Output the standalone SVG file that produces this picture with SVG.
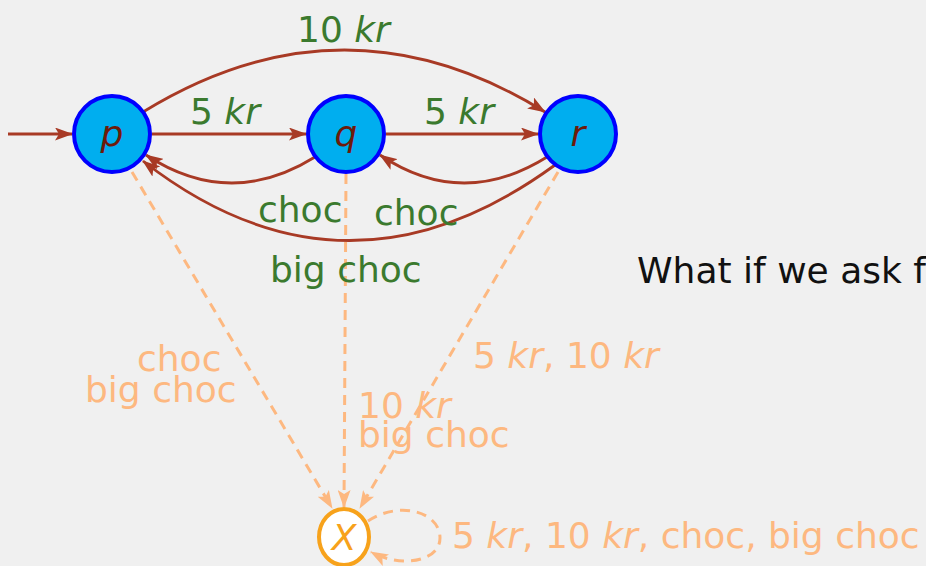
<svg xmlns="http://www.w3.org/2000/svg" width="926" height="566" viewBox="0 0 926 566">
  <style>
    text { font-family: "DejaVu Sans", "Liberation Sans", sans-serif; font-size: 36px; }
    .it { font-style: italic; }
    .lbl { fill: #3b7a2e; }
    .dead { fill: #fdb880; }
    .state { fill: #00aeef; stroke: #0000ff; stroke-width: 4; }
    .sink { fill: #ffffff; stroke: #f7a21b; stroke-width: 4; }
    .name { fill: #6e1a0a; font-style: italic; text-anchor: middle; }
    .edge { fill: none; stroke: #a83a25; stroke-width: 2.8; marker-end: url(#ah); }
    .dash { fill: none; stroke: #fdb880; stroke-width: 3; stroke-dasharray: 10 7; marker-end: url(#ahd); }
  </style>
  <defs>
    <marker id="ah" markerUnits="userSpaceOnUse" markerWidth="18" markerHeight="13" refX="17" refY="6.5" orient="auto">
      <path d="M0,0 L18,6.5 L0,13 L4,6.5 z" fill="#a83a25"/>
    </marker>
    <marker id="ahd" markerUnits="userSpaceOnUse" markerWidth="18" markerHeight="13" refX="17" refY="6.5" orient="auto">
      <path d="M0,0 L18,6.5 L0,13 L4,6.5 z" fill="#fdb880"/>
    </marker>
  </defs>
  <rect width="926" height="566" fill="#f0f0f0"/>

  <g id="connectors">
    <path class="edge" d="M8,134 L72,134"/>
    <path class="edge" d="M152,134 L306,134"/>
    <path class="edge" d="M386,134 L538,134"/>
    <path class="edge" d="M143,112 Q345,-12 545,112"/>
    <path class="edge" d="M315,157 Q230,210 146,155"/>
    <path class="edge" d="M547,157 Q462,210 380,155"/>
    <path class="edge" d="M555,165 Q345,318 143,161"/>
    <path class="dash" d="M132,172 L332,508"/>
    <path class="dash" d="M346,174 L344,507"/>
    <path class="dash" d="M558,172 L360,508"/>
    <path class="dash" d="M368,521 C400,500 440,512 440,538 C440,562 400,568 371,552"/>
  </g>

  <g id="labels">
    <text class="lbl" x="297" y="42">10 <tspan class="it">kr</tspan></text>
    <text class="lbl" x="190" y="124">5 <tspan class="it">kr</tspan></text>
    <text class="lbl" x="424" y="124">5 <tspan class="it">kr</tspan></text>
    <text class="lbl" x="258" y="222">choc</text>
    <text class="lbl" x="374" y="225">choc</text>
    <text class="lbl" x="270" y="282">big choc</text>
    <text class="dead" x="137" y="371">choc</text>
    <text class="dead" x="85" y="402">big choc</text>
    <text class="dead" x="473" y="368">5 <tspan class="it">kr</tspan>, 10 <tspan class="it">kr</tspan></text>
    <text class="dead" x="358" y="418">10 <tspan class="it">kr</tspan></text>
    <text class="dead" x="358" y="447">big choc</text>
    <text class="dead" x="452" y="548">5 <tspan class="it">kr</tspan>, 10 <tspan class="it">kr</tspan>, choc, big choc</text>
    <text x="637" y="283" fill="#111111">What if we ask f</text>
  </g>

  <g id="node-p">
    <circle class="state" cx="112" cy="134" r="38"/>
    <text class="name" x="112" y="146">p</text>
  </g>
  <g id="node-q">
    <circle class="state" cx="346" cy="134" r="38"/>
    <text class="name" x="346" y="146">q</text>
  </g>
  <g id="node-r">
    <circle class="state" cx="578" cy="134" r="38"/>
    <text class="name" x="578" y="146">r</text>
  </g>
  <g id="node-X">
    <ellipse class="sink" cx="344" cy="537" rx="25" ry="28"/>
    <text x="344" y="550" fill="#f7a21b" font-style="italic" text-anchor="middle">X</text>
  </g>
</svg>
